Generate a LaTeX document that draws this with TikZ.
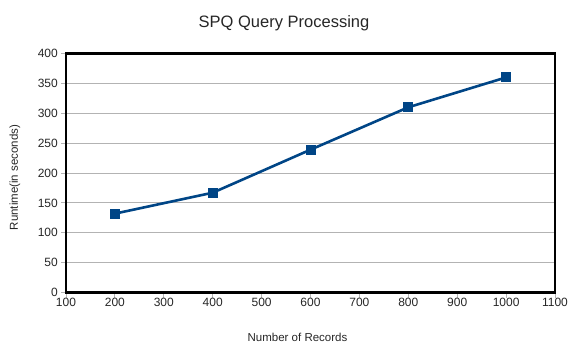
\documentclass[tikz,border=0pt]{standalone}
\usepackage{fontspec}
\setmainfont{Liberation Sans}
\usetikzlibrary{positioning}

\definecolor{seriesblue}{HTML}{004586}
\definecolor{gridgray}{HTML}{B3B3B3}

\tikzset{
    gridline/.style={draw=gridgray, line width=0.9pt},
    tickmark/.style={draw=gridgray, line width=0.9pt},
    ticklabel/.style={font=\fontsize{12}{12}\selectfont, text=black!85, inner sep=0pt},
    axistitle/.style={font=\fontsize{11.5}{11.5}\selectfont, text=black!85, inner sep=0pt},
    datapoint/.style={fill=seriesblue, minimum size=10pt, inner sep=0pt},
}

\begin{document}
\begin{tikzpicture}[x=1pt,y=1pt]
    \useasboundingbox (0,0) rectangle (569,343);

    % chart title
    \node[font=\fontsize{16.5}{16.5}\selectfont, text=black!85, anchor=base] (title) at (284,315) {SPQ Query Processing};

    \begin{scope}[shift={(17.1,50.5)}, x=0.489pt, y=0.5975pt]

        % horizontal grid
        \foreach \v in {50,100,...,350}
            \draw[gridline] (100,\v) -- (1100,\v);

        % y axis ticks and labels
        \foreach \v in {0,50,...,400} {
            \draw[tickmark] (100,\v) -- ++(-5pt,0);
            \node[ticklabel, anchor=east] (ytick\v) at ([xshift=-8pt]100,\v) {\v};
        }

        % x axis ticks and labels
        \foreach \v in {100,200,...,1100} {
            \draw[tickmark] (\v,0) -- ++(0,-5pt);
            \node[ticklabel] (xtick\v) at ([yshift=-10pt]\v,0) {\v};
        }

        % plot frame
        \draw[black, line width=2.6pt] (100,0) rectangle (1100,400);

        % data series
        \node[datapoint] (p200) at (200,132) {};
        \node[datapoint] (p400) at (400,167) {};
        \node[datapoint] (p600) at (600,239) {};
        \node[datapoint] (p800) at (800,310) {};
        \node[datapoint] (p1000) at (1000,360) {};
        \draw[seriesblue, line width=2.6pt, line join=round]
            (p200.center) -- (p400.center) -- (p600.center) -- (p800.center) -- (p1000.center);

    \end{scope}

    % axis titles
    \node[axistitle] (xtitle) at (297.5,6) {Number of Records};
    \node[axistitle, rotate=90] (ytitle) at (15,165.5) {Runtime(in seconds)};

\end{tikzpicture}
\end{document}
